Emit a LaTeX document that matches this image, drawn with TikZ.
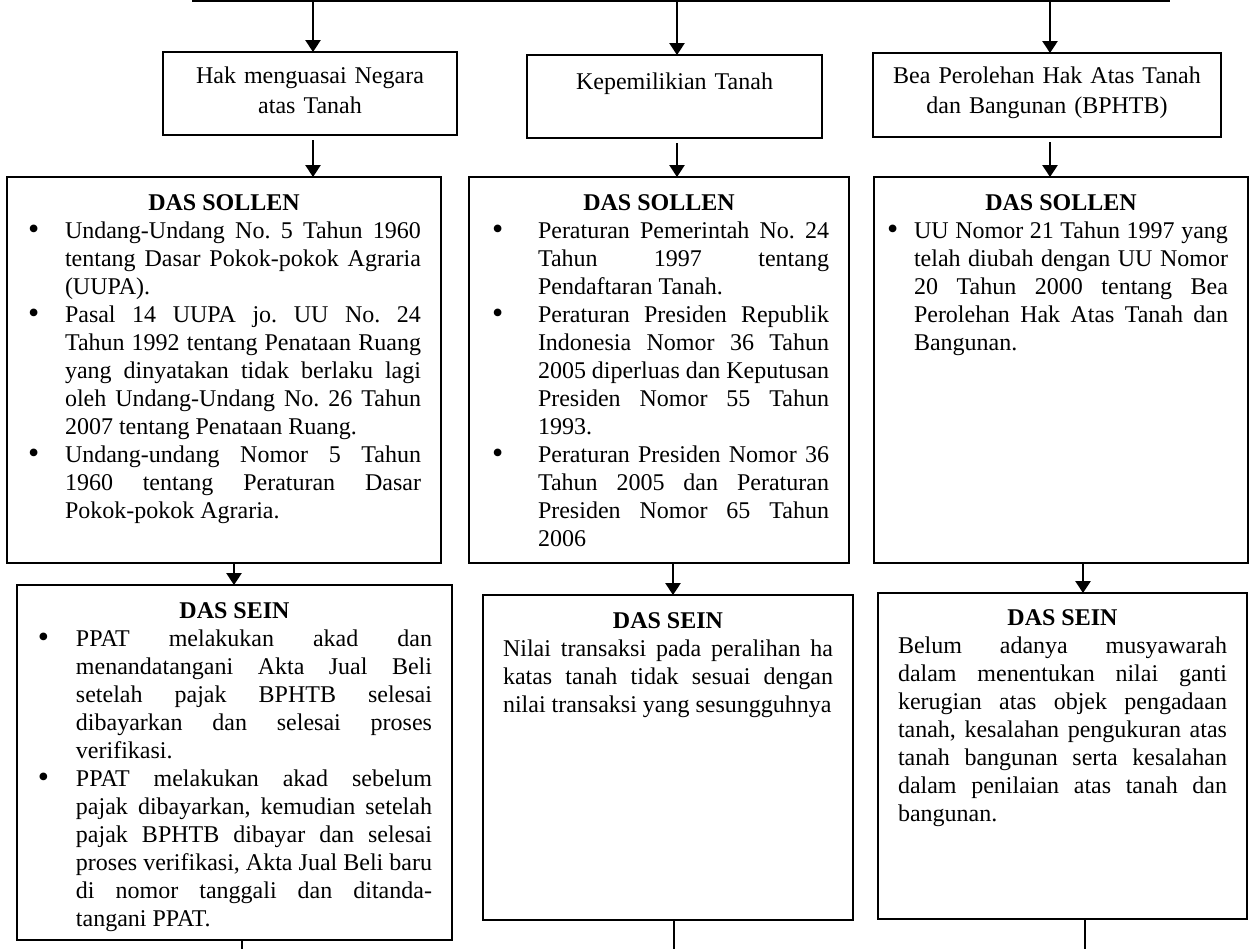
\documentclass[tikz,border=0pt]{standalone}
\usepackage{fontspec}
\setmainfont{Liberation Serif}
\usetikzlibrary{arrows.meta}
\frenchspacing
\hyphenpenalty=10000
\newenvironment{DasList}[2]{%
  \begin{list}{\raisebox{-0.6pt}{\fontsize{16pt}{14pt}\selectfont\textbullet}}{%
    \setlength{\leftmargin}{#1}%
    \setlength{\labelwidth}{#2}%
    \setlength{\labelsep}{0pt}%
    \setlength{\itemsep}{0pt}%
    \setlength{\topsep}{0pt}%
    \setlength{\partopsep}{0pt}%
    \setlength{\parsep}{0pt}%
    \renewcommand{\makelabel}[1]{##1\hfil}}}%
  {\end{list}}
\begin{document}
\begin{tikzpicture}
    [x=0.5pt, y=-0.5pt, >={Triangle[width=7.5pt,length=6pt]},
    TopNode/.style={rectangle, draw=black, line width=1pt, outer sep=0pt, inner sep=0pt, anchor=north west, align=center, font=\fontsize{12pt}{15pt}\selectfont},
    DasNode/.style={rectangle, draw=black, line width=1pt, outer sep=0pt, inner xsep=10pt, inner ysep=0pt, anchor=north west, align=justify, text height=16.5pt, font=\fontsize{12pt}{14pt}\selectfont},
    Link/.style={line width=1.4pt}]
     \useasboundingbox (0,0) rectangle (1250,949);
     % top row
     \node[TopNode, text width=147pt, text height=15.5pt, text depth=26pt] (n0) at (163,52){Hak menguasai Negara\\atas Tanah};
     \node[TopNode, text width=147.5pt, text height=17pt, text depth=24.5pt] (n1) at (527,55){Kepemilikian Tanah};
     \node[TopNode, text width=174pt, text height=15pt, text depth=27pt] (n2) at (873,53){Bea Perolehan Hak Atas Tanah\\dan Bangunan (BPHTB)};
     % das sollen
     \node[DasNode, text width=197pt, text depth=176.5pt] (n3) at (7,177){{\centering\textbf{DAS SOLLEN}\par}
       \begin{DasList}{19pt}{18.5pt}
       \item Undang-Undang No. 5 Tahun 1960\linebreak tentang Dasar Pokok-pokok Agraria\linebreak (UUPA).
       \item Pasal 14 UUPA jo. UU No. 24\linebreak Tahun 1992 tentang Penataan Ruang\linebreak yang dinyatakan tidak berlaku lagi\linebreak oleh Undang-Undang No. 26 Tahun\linebreak 2007 tentang Penataan Ruang.
       \item Undang-undang Nomor 5 Tahun\linebreak 1960 tentang Peraturan Dasar\linebreak Pokok-pokok Agraria.
       \end{DasList}};
     \node[DasNode, text width=170pt, text depth=176.5pt] (n4) at (469,177){{\centering\textbf{DAS SOLLEN}\par}
       \begin{DasList}{24.5pt}{23pt}
       \item Peraturan Pemerintah No. 24\linebreak Tahun 1997 tentang\linebreak Pendaftaran Tanah.
       \item Peraturan Presiden Republik\linebreak Indonesia Nomor 36 Tahun\linebreak 2005 diperluas dan Keputusan\linebreak Presiden Nomor 55 Tahun\linebreak 1993.
       \item Peraturan Presiden Nomor 36\linebreak Tahun 2005 dan Peraturan\linebreak Presiden Nomor 65 Tahun\linebreak 2006
       \end{DasList}};
     \node[DasNode, text width=167pt, text depth=176.5pt] (n5) at (874,177){{\centering\textbf{DAS SOLLEN}\par}
       \begin{DasList}{10pt}{13.5pt}
       \item UU Nomor 21 Tahun 1997 yang\linebreak telah diubah dengan UU Nomor\linebreak 20 Tahun 2000 tentang Bea\linebreak Perolehan Hak Atas Tanah dan\linebreak Bangunan.
       \end{DasList}};
     % das sein
     \node[DasNode, text width=197.5pt, text depth=161pt] (n6) at (17,585){{\centering\textbf{DAS SEIN}\par}
       \begin{DasList}{19.5pt}{19pt}
       \item PPAT melakukan akad dan\linebreak menandatangani Akta Jual Beli\linebreak setelah pajak BPHTB selesai\linebreak dibayarkan dan selesai proses\linebreak verifikasi.
       \item PPAT melakukan akad sebelum\linebreak pajak dibayarkan, kemudian setelah\linebreak pajak BPHTB dibayar dan selesai\linebreak proses verifikasi, Akta Jual Beli baru\linebreak di nomor tanggali dan ditanda-\linebreak tangani PPAT.
       \end{DasList}};
     \node[DasNode, text width=165pt, text depth=146pt] (n7) at (483,595){{\centering\textbf{DAS SEIN}\par}
       Nilai transaksi pada peralihan ha\linebreak katas tanah tidak sesuai dengan\linebreak nilai transaksi yang sesungguhnya};
     \node[DasNode, text width=164.5pt, text height=16pt, text depth=147pt] (n8) at (878,593){{\centering\textbf{DAS SEIN}\par}
       Belum adanya musyawarah\linebreak dalam menentukan nilai ganti\linebreak kerugian atas objek pengadaan\linebreak tanah, kesalahan pengukuran atas\linebreak tanah bangunan serta kesalahan\linebreak dalam penilaian atas tanah dan\linebreak bangunan.};
     % connector columns
     \coordinate (TopLeft) at (192,1);
     \coordinate (TopRight) at (1170,1);
     \coordinate (a1) at (313,0);
     \coordinate (a2) at (677,0);
     \coordinate (a3) at (1050,0);
     \coordinate (b1) at (234,0);
     \coordinate (b2) at (673,0);
     \coordinate (b3) at (1083,0);
     \coordinate (e1) at (242,952);
     \coordinate (e2) at (674,952);
     \coordinate (e3) at (1085,952);
     \draw[Link] (TopLeft) -- (TopRight);
     \draw[->, Link] (TopLeft -| a1) -- (n0.north -| a1);
     \draw[->, Link] (TopLeft -| a2) -- (n1.north -| a2);
     \draw[->, Link] (TopLeft -| a3) -- (n2.north -| a3);
     \draw[->, Link, shorten <=2.5pt] (n0.south -| a1) -- (n3.north -| a1);
     \draw[->, Link, shorten <=2.5pt] (n1.south -| a2) -- (n4.north -| a2);
     \draw[->, Link, shorten <=2.5pt] (n2.south -| a3) -- (n5.north -| a3);
     \draw[->, Link] (n3.south -| b1) -- (n6.north -| b1);
     \draw[->, Link] (n4.south -| b2) -- (n7.north -| b2);
     \draw[->, Link] (n5.south -| b3) -- (n8.north -| b3);
     \draw[Link] (n6.south -| e1) -- (e1);
     \draw[Link] (n7.south -| e2) -- (e2);
     \draw[Link] (n8.south -| e3) -- (e3);
\end{tikzpicture}
\end{document}
